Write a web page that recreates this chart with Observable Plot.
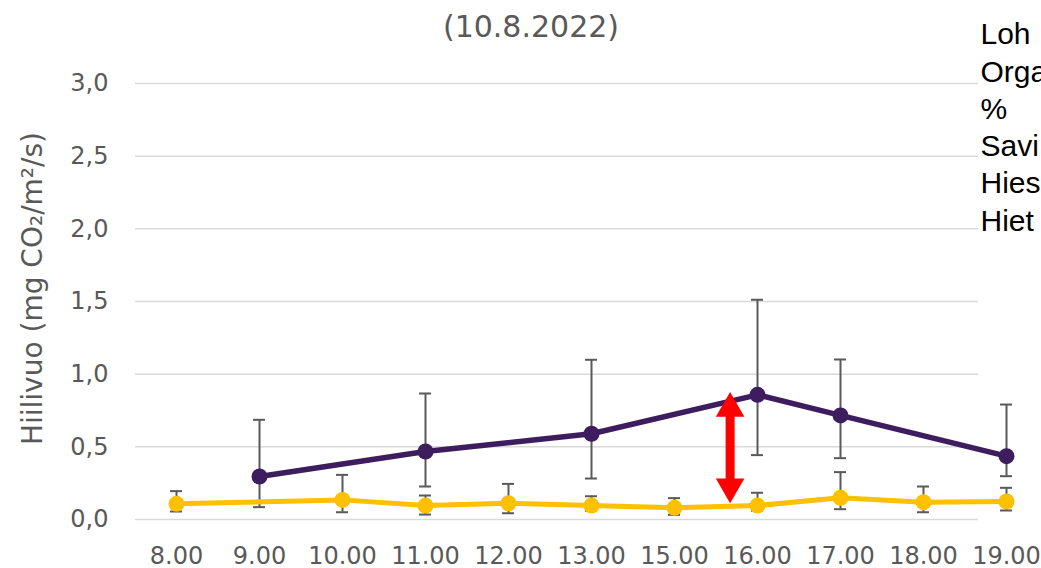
<!DOCTYPE html>
<html>
<head>
<meta charset="utf-8">
<script src="https://cdn.jsdelivr.net/npm/d3@7"></script>
<script src="https://cdn.jsdelivr.net/npm/@observablehq/plot@0.6"></script>
<style>
  html, body { margin: 0; padding: 0; background: white; }
</style>
</head>
<body>
<div id="chart"></div>
<script>
// ---- data ----
const categories = ["8.00","9.00","10.00","11.00","12.00","13.00","15.00","16.00","17.00","18.00","19.00"];

const purpleTimes = ["9.00","11.00","13.00","16.00","17.00","19.00"];
const purpleMean  = [0.296, 0.468, 0.590, 0.858, 0.716, 0.436];
const purpleLow   = [0.085, 0.227, 0.282, 0.443, 0.422, 0.298];
const purpleHigh  = [0.686, 0.867, 1.099, 1.512, 1.101, 0.791];

const yellowTimes = ["8.00","10.00","11.00","12.00","13.00","15.00","16.00","17.00","18.00","19.00"];
const yellowMean  = [0.108, 0.135, 0.096, 0.112, 0.096, 0.080, 0.096, 0.149, 0.119, 0.124];
const yellowLow   = [0.055, 0.050, 0.034, 0.043, 0.060, 0.032, 0.060, 0.071, 0.050, 0.062];
const yellowHigh  = [0.195, 0.307, 0.165, 0.245, 0.160, 0.147, 0.184, 0.326, 0.227, 0.218];

const yTicks = [0, 0.5, 1.0, 1.5, 2.0, 2.5, 3.0];

// annotation arrow (position in category-index units, values in y units)
const arrowX = 6.67;
const arrowFrom = 0.112;
const arrowTo = 0.876;

const titleText = "(10.8.2022)";
const yLabelText = "Hiilivuo (mg CO\u2082/m\u00b2/s)";
const sideText = ["Loh", "Orga", "%", "Savi", "Hies", "Hiet"];

// ---- tables ----
const idx = t => categories.indexOf(t);
const purple = purpleTimes.map((t, k) => ({i: idx(t), v: purpleMean[k], lo: purpleLow[k], hi: purpleHigh[k]}));
const yellow = yellowTimes.map((t, k) => ({i: idx(t), v: yellowMean[k], lo: yellowLow[k], hi: yellowHigh[k]}));
const errs = [...yellow, ...purple];

const PURPLE = "#3d1d5e";
const YELLOW = "#ffc000";
const GRAY = "#595959";
const FONT = "DejaVu Sans, Liberation Sans, sans-serif";

const chart = Plot.plot({
  width: 1041,
  height: 568,
  marginLeft: 135,
  marginRight: 63,
  marginTop: 83,
  marginBottom: 49,
  style: {fontFamily: FONT, fontSize: "24px", color: GRAY, background: "white", overflow: "visible"},
  x: {domain: [0, 10], range: [176, 1006]},
  y: {domain: [0, 3]},
  marks: [
    Plot.ruleY(yTicks, {stroke: "#d9d9d9", strokeWidth: 1.5}),
    Plot.axisY({ticks: yTicks, tickSize: 0, tickPadding: 27, label: null, fontSize: 24,
      tickFormat: d => d.toFixed(1).replace(".", ",")}),
    Plot.axisX({ticks: d3.range(categories.length), tickSize: 0, tickPadding: 27, label: null, fontSize: 24,
      tickFormat: i => categories[i]}),
    // error bars
    Plot.ruleX(errs, {x: "i", y1: "lo", y2: "hi", stroke: GRAY, strokeWidth: 2}),
    Plot.ruleY(errs, {x1: "i", x2: "i", y: "lo", stroke: GRAY, strokeWidth: 2, insetLeft: -6, insetRight: -6}),
    Plot.ruleY(errs, {x1: "i", x2: "i", y: "hi", stroke: GRAY, strokeWidth: 2, insetLeft: -6, insetRight: -6}),
    // series
    Plot.line(yellow, {x: "i", y: "v", stroke: YELLOW, strokeWidth: 5}),
    Plot.dot(yellow, {x: "i", y: "v", r: 8, fill: YELLOW}),
    Plot.line(purple, {x: "i", y: "v", stroke: PURPLE, strokeWidth: 5.5}),
    Plot.dot(purple, {x: "i", y: "v", r: 8, fill: PURPLE}),
    // red double arrow
    Plot.ruleX([arrowX], {x: d => d, y1: arrowTo, y2: arrowFrom, stroke: "#ff0000", strokeWidth: 9, insetTop: 22, insetBottom: 22}),
    Plot.dot([arrowTo], {x: arrowX, y: d => d, symbol: "triangle", r: 10.6, fill: "#ff0000", dy: 16.4}),
    Plot.dot([arrowFrom], {x: arrowX, y: d => d, symbol: "triangle", r: 10.6, fill: "#ff0000", rotate: 180, dy: -16.4}),
    // texts
    Plot.text([titleText], {text: d => d, frameAnchor: "top", textAnchor: "middle", dx: -26, dy: -56, fontSize: 30, fill: GRAY, lineAnchor: "middle"}),
    Plot.text([yLabelText], {text: d => d, frameAnchor: "left", textAnchor: "middle", rotate: -90, dx: -102, dy: -13, fontSize: 28, fill: GRAY, lineAnchor: "middle"}),
    Plot.text([sideText.join("\n")], {text: d => d, frameAnchor: "top-right", textAnchor: "start", dx: 2, dy: 42, lineAnchor: "middle", lineHeight: 1.243, fontSize: 30, fontFamily: "Liberation Sans, Arial, sans-serif", fill: "#000000"})
  ]
});
document.getElementById("chart").appendChild(chart);
</script>
</body>
</html>
